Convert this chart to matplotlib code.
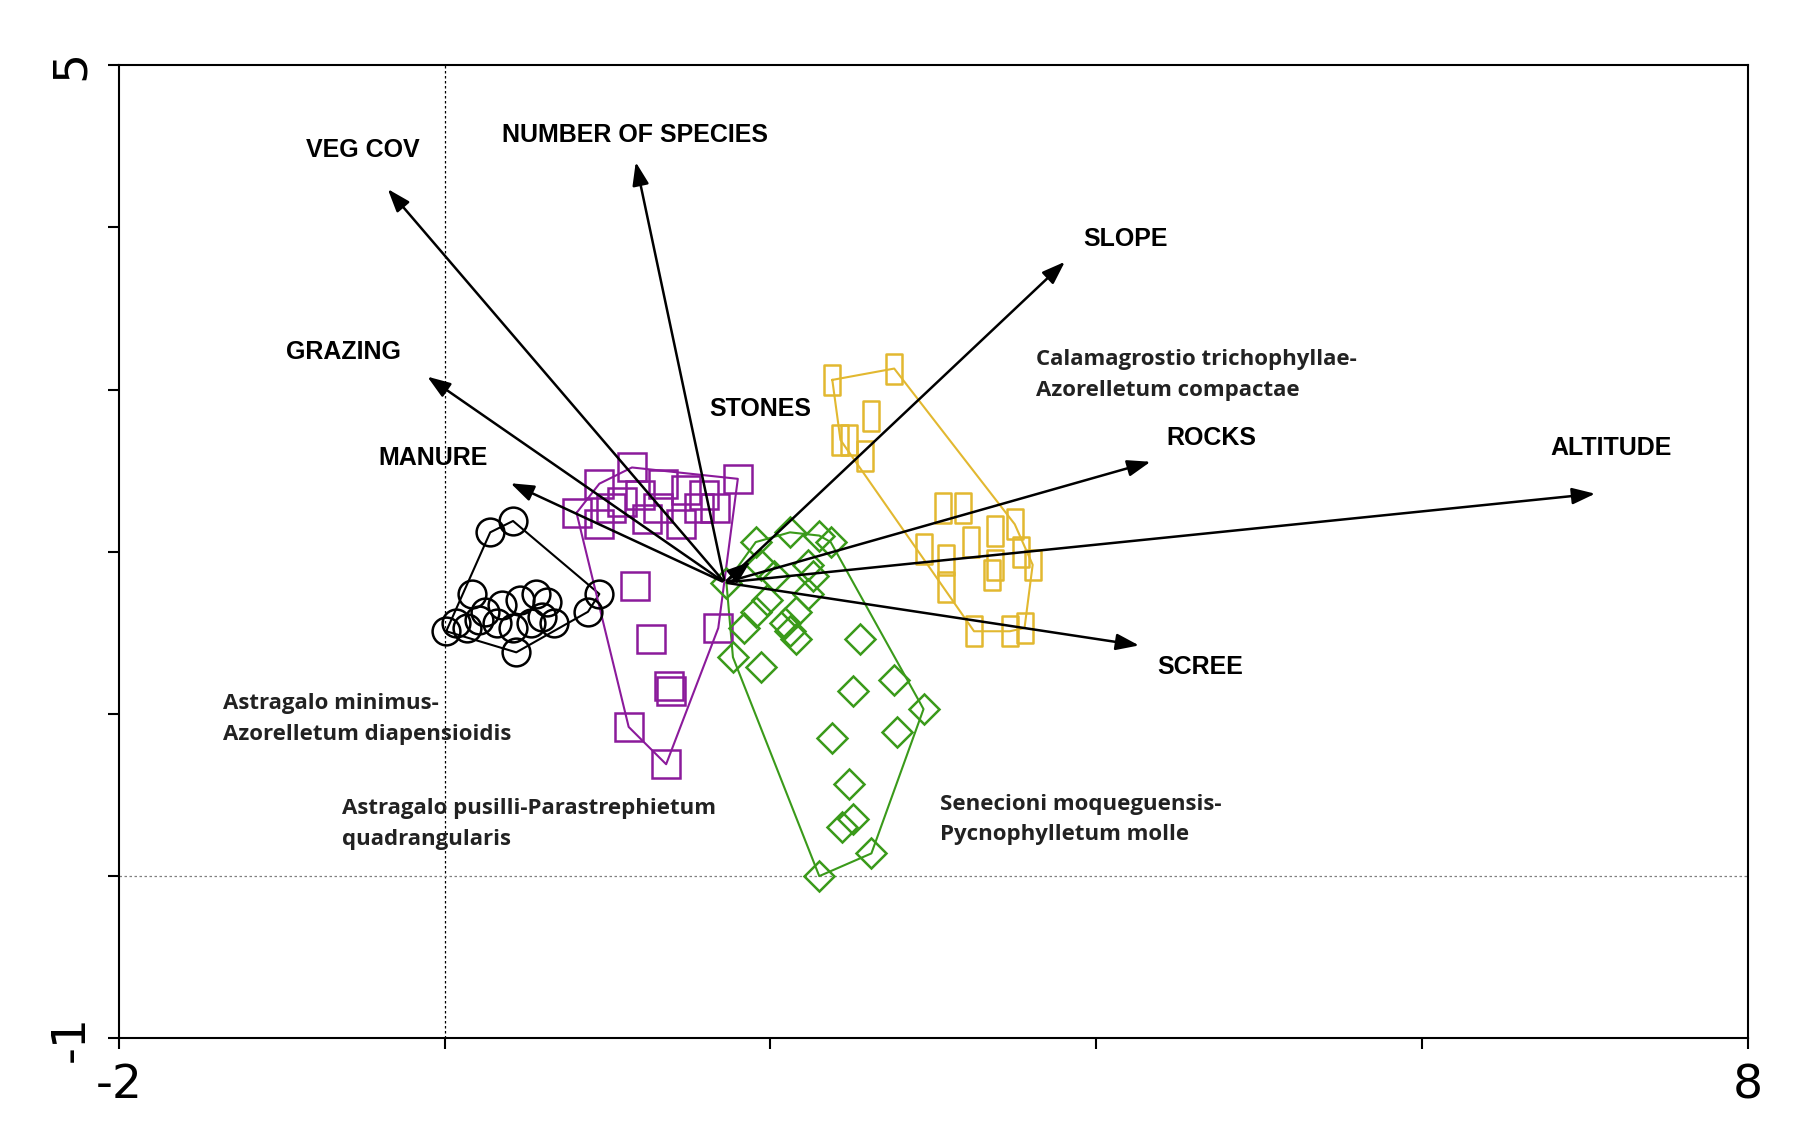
import numpy as np
import matplotlib
matplotlib.use("Agg")
import matplotlib.pyplot as plt
from matplotlib.path import Path

origin = (1.72, 1.81)
env_names = ["VEG COV", "NUMBER OF SPECIES", "SLOPE", "GRAZING", "MANURE", "STONES", "ROCKS", "ALTITUDE", "SCREE"]
env_x = [-0.36, 1.17, 3.82, -0.12, 0.39, 1.89, 4.35, 7.08, 4.28]
env_y = [4.25, 4.42, 3.80, 3.09, 2.43, 1.95, 2.56, 2.36, 1.42]
lab_x = [-0.50, 1.17, 4.18, -0.62, -0.07, 1.94, 4.71, 7.16, 4.64]
lab_y = [4.48, 4.57, 3.93, 3.23, 2.58, 2.88, 2.70, 2.64, 1.29]

black_x = [0.28,0.42,0.95,0.88,0.01,0.07,0.17,0.25,0.35,0.46,0.56,0.60,0.42,0.44,0.67,0.14,0.53,0.32,0.63,0.21]
black_y = [2.12,2.19,1.74,1.63,1.51,1.56,1.74,1.63,1.67,1.70,1.74,1.60,1.53,1.38,1.56,1.53,1.56,1.56,1.69,1.58]
purple_x = [1.15,0.95,0.81,1.02,1.20,1.34,1.48,1.59,1.80,1.66,1.45,1.24,1.09,0.95,1.17,1.27,1.38,1.39,1.13,1.36,1.68,1.56,1.31]
purple_y = [2.52,2.42,2.24,2.27,2.35,2.42,2.38,2.35,2.45,2.27,2.17,2.20,2.31,2.17,1.79,1.46,1.17,1.14,0.92,0.69,1.53,2.27,2.27]
green_x = [1.73,1.91,2.12,2.30,2.23,1.98,2.09,2.16,2.23,1.84,1.77,1.94,2.12,2.55,2.76,2.94,2.51,2.38,2.78,2.48,2.51,2.44,2.62,2.30,2.26,2.02,2.16,2.37,1.94,1.91]
green_y = [1.81,2.06,2.12,2.10,1.92,1.70,1.56,1.63,1.74,1.53,1.35,1.29,1.51,1.46,1.21,1.03,1.14,0.85,0.89,0.57,0.35,0.30,0.14,0.00,1.85,1.85,1.46,2.06,1.92,1.63]
yellow_x = [2.38,2.76,2.62,2.48,2.43,2.58,3.06,2.94,3.08,3.18,3.38,3.50,3.38,3.54,3.61,3.23,3.36,3.25,3.47,3.56,3.08]
yellow_y = [3.06,3.13,2.84,2.69,2.69,2.59,2.27,2.02,1.95,2.27,2.13,2.17,1.92,2.00,1.92,2.06,1.86,1.51,1.51,1.53,1.78]

groups = [
    ("Calamagrostio trichophyllae-\nAzorelletum compactae", 3.63, 3.09),
    ("Astragalo minimus-\nAzorelletum diapensioidis", -1.36, 0.97),
    ("Astragalo pusilli-Parastrephietum\nquadrangularis", -0.63, 0.32),
    ("Senecioni moqueguensis-\nPycnophylletum molle", 3.04, 0.35),
]

def hull(xs, ys):
    pts = sorted(set(zip(xs, ys)))
    def cross(o, a, b):
        return (a[0]-o[0])*(b[1]-o[1]) - (a[1]-o[1])*(b[0]-o[0])
    lower, upper = [], []
    for p in pts:
        while len(lower) >= 2 and cross(lower[-2], lower[-1], p) <= 0:
            lower.pop()
        lower.append(p)
    for p in reversed(pts):
        while len(upper) >= 2 and cross(upper[-2], upper[-1], p) <= 0:
            upper.pop()
        upper.append(p)
    h = lower[:-1] + upper[:-1]
    h.append(h[0])
    return [p[0] for p in h], [p[1] for p in h]

fig = plt.figure(figsize=(18, 11.46), dpi=100)
ax = fig.add_axes([0.066, 0.094, 0.905, 0.849])
ax.set_xlim(-2, 8)
ax.set_ylim(-1, 5)

ax.axvline(0, color="black", ls=(0, (2, 2)), lw=0.9)
ax.axhline(0, color="gray", ls=(0, (2, 2)), lw=0.9)

rect = Path([(-0.5, -1), (0.5, -1), (0.5, 1), (-0.5, 1), (-0.5, -1)],
            [Path.MOVETO, Path.LINETO, Path.LINETO, Path.LINETO, Path.CLOSEPOLY])

sets = [
    (black_x, black_y, "black", "o", 20),
    (purple_x, purple_y, "#8B1A9B", "s", 20),
    (green_x, green_y, "#3A9A1A", "D", 15),
    (yellow_x, yellow_y, "#E2B830", rect, 22),
]
for xs, ys, c, m, ms in sets:
    hx, hy = hull(xs, ys)
    ax.plot(hx, hy, color=c, lw=1.5, zorder=2)
    ax.plot(xs, ys, ls="none", marker=m, ms=ms, mfc="none", mec=c, mew=1.8, zorder=3)

for name, ex, ey, lx, ly in zip(env_names, env_x, env_y, lab_x, lab_y):
    ax.annotate("", xy=(ex, ey), xytext=origin,
                arrowprops=dict(arrowstyle="-|>,head_length=1.4,head_width=0.5", color="black", lw=1.8), zorder=5)
    ax.text(lx, ly, name, fontsize=18, fontweight="bold", family="Liberation Sans",
            ha="center", va="center", zorder=6)

for txt, gx, gy in groups:
    ax.text(gx, gy, txt, fontsize=16, fontweight="bold", family="Open Sans",
            ha="left", va="center", linespacing=1.6, color="#222222", zorder=6)

ax.set_xticks([-2, 0, 2, 4, 6, 8])
ax.set_xticklabels(["-2", "", "", "", "", "8"])
ax.set_yticks([-1, 0, 1, 2, 3, 4, 5])
ax.set_yticklabels(["-1", "", "", "", "", "", "5"], rotation=90, va="center")
ax.tick_params(direction="out", length=8, width=1.5, labelsize=34, pad=10)
for s in ax.spines.values():
    s.set_linewidth(1.5)

fig.savefig("out.png", dpi=100)
